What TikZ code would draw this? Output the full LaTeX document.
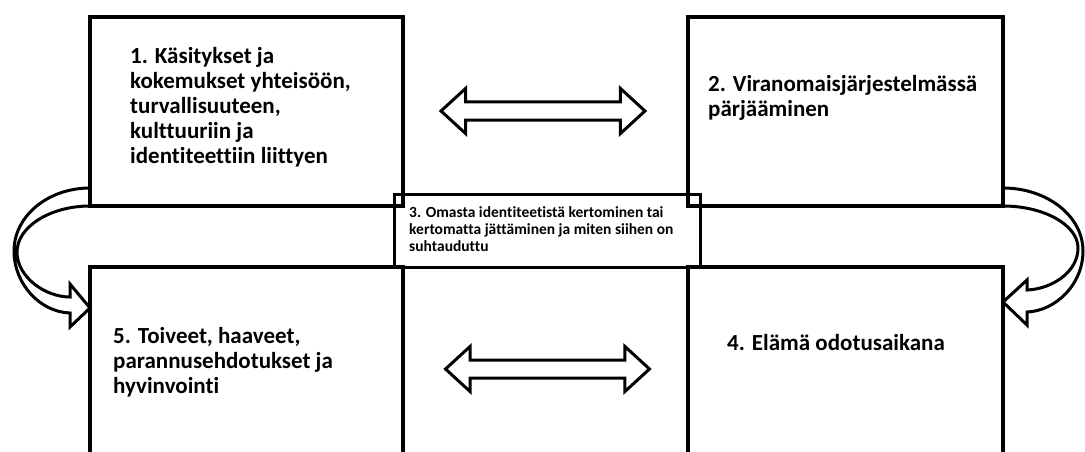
\documentclass[tikz,border=0pt]{standalone}
\usepackage{fontspec}
\setmainfont{Carlito}[Ligatures=NoCommon]
\usetikzlibrary{shapes.arrows,calc}

\begin{document}
\begin{tikzpicture}[x=1pt, y=-1pt, line join=miter]
\tikzset{
    theme/.style= {draw, line width=3.5pt, outer sep=0pt, inner sep=0pt, minimum width=313pt, minimum height=189pt},
    middle/.style= {draw, line width=3pt, outer sep=0pt, inner sep=0pt, minimum width=306pt, minimum height=73pt},
    bigtxt/.style= {anchor=base west, align=left, inner sep=0pt, font=\fontsize{23}{25}\selectfont\bfseries},
    smalltxt/.style= {anchor=base west, align=left, inner sep=0pt, font=\fontsize{15.5}{17}\selectfont\bfseries},
    twoway/.style= {double arrow, draw, line width=3pt, inner xsep=0pt, inner ysep=7.5pt, minimum height=204pt, double arrow head extend=13.5pt, double arrow tip angle=85},
    turn/.style= {draw, line width=3pt},
}
\useasboundingbox (0,0) rectangle (1085,452);
\clip (0,0) rectangle (1085,452);

\node[theme] (t1) at (246.5,111.5) {};
\node[theme, minimum width=315pt] (t2) at (845.5,111.5) {};
\node[theme, minimum height=213pt] (t5) at (246.5,373.5) {};
\node[theme, minimum width=315pt, minimum height=213pt] (t4) at (845.5,373.5) {};
\node[middle] (t3) at (547,230.5) {};

% base anchor sits on the last line
\node[bigtxt] (l1) at (130,163) {1. Käsitykset ja\\kokemukset yhteisöön,\\turvallisuuteen,\\kulttuuriin ja\\identiteettiin liittyen};
\node[bigtxt] (l2) at (708,117) {2. Viranomaisjärjestelmässä\\pärjääminen};
\node[smalltxt] (l3) at (409,251) {3. Omasta identiteetistä kertominen tai\\kertomatta jättäminen ja miten siihen on\\suhtauduttu};
\node[bigtxt] (l4) at (727,350) {4. Elämä odotusaikana};
\node[bigtxt] (l5) at (113,393) {5. Toiveet, haaveet,\\parannusehdotukset ja\\hyvinvointi};

\node[twoway] (a12) at (543,111) {};
\node[twoway] (a54) at (547.5,369) {};

\draw[turn] ($(t1.south west)+(0,-18)$) .. controls (48,188) and (14,216) .. (14,251)
    .. controls (14,284) and (40,312) .. (70,313) -- (70,327) -- ($(t5.north west)+(0,41)$)
    -- (70,284) -- (70,297) .. controls (45,297) and (17,277) .. (17,252)
    .. controls (17,227) and (50,206) .. (t1.south west) -- cycle;
\draw[turn] ($(t2.south east)+(0,-18)$) .. controls (1047,188) and (1083,216) .. (1083,251)
    .. controls (1083,285) and (1055,311) .. (1027,312) -- (1027,325) -- ($(t4.north east)+(0,35)$)
    -- (1027,280) -- (1027,290) .. controls (1052,289) and (1078,272) .. (1078,248)
    .. controls (1078,225) and (1044,206) .. (t2.south east) -- cycle;
\end{tikzpicture}
\end{document}
